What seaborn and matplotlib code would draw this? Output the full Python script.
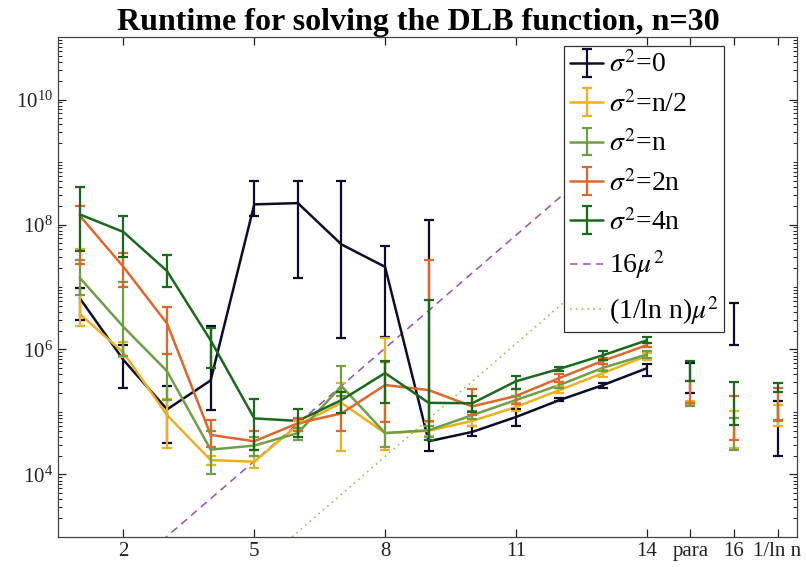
import numpy as np
import pandas as pd
import seaborn as sns
import matplotlib.pyplot as plt
from matplotlib.ticker import FixedLocator, LogLocator, NullFormatter

# x positions: 1..14 are the main runs, 15/16/17 are the separate variants
steps = list(range(1, 15))
extra_x = [15, 16, 17]
tick_pos = [2, 5, 8, 11, 14, 15, 16, 17]
tick_labels = ['2', '5', '8', '11', '14', 'para', '16', '1/ln n']

names = ['$\\sigma^2$=0', '$\\sigma^2$=n/2', '$\\sigma^2$=n', '$\\sigma^2$=2n', '$\\sigma^2$=4n']
colors = ['#0d0d2b', '#edb120', '#6e9f45', '#e0662c', '#1b6a1b']

# sigma^2 = 0
rt_0 = [6.6e6, 6.8e5, 1.1e5, 3.2e5, 2.1e8, 2.2e8, 4.8e7, 2.1e7, 3.4e4, 4.8e4, 8.3e4, 1.55e5, 2.7e5, 5.0e5]
lo_0 = [3.0e6, 2.4e5, 3.2e4, 1.07e5, 1.35e8, 1.4e7, 1.5e6, 1.6e6, 2.4e4, 4.2e4, 6.0e4, 1.48e5, 2.45e5, 3.7e5]
hi_0 = [9.5e6, 1.17e6, 2.6e5, 2.4e6, 5.0e8, 5.0e8, 5.0e8, 4.5e7, 1.17e8, 5.9e4, 1.1e5, 1.66e5, 2.9e5, 5.9e5]
xlo_0 = [2.0e5, 1.2e6, 2.0e4]
xhi_0 = [6.0e5, 5.6e6, 1.48e5]

# sigma^2 = n/2
rt_1 = [3.7e6, 8.9e5, 8.9e4, 1.7e4, 1.6e4, 6.2e4, 1.4e5, 4.6e4, 5.0e4, 7.2e4, 1.2e5, 2.24e5, 4.2e5, 7.9e5]
lo_1 = [2.4e6, 7.6e5, 2.7e4, 1.4e4, 1.26e4, 5.0e4, 2.4e4, 2.5e4, 4.2e4, 5.9e4, 1.02e5, 2.0e5, 3.6e5, 6.9e5]
hi_1 = [4.0e7, 1.3e6, 1.6e5, 2.0e4, 2.0e4, 7.1e4, 2.9e5, 1.55e6, 6.9e4, 8.9e4, 1.38e5, 2.6e5, 4.7e5, 8.9e5]
xlo_1 = [1.32e5, 2.7e4, 6.0e4]
xhi_1 = [1.5e5, 1.05e5, 1.3e5]

# sigma^2 = n
rt_2 = [1.4e7, 2.3e6, 4.5e5, 2.5e4, 2.9e4, 4.6e4, 2.6e5, 4.6e4, 5.1e4, 8.9e4, 1.55e5, 2.7e5, 5.1e5, 8.3e5]
lo_2 = [7.4e6, 7.8e5, 1.55e5, 1.0e4, 1.95e4, 3.5e4, 1.8e5, 2.75e4, 4.0e4, 7.6e4, 1.35e5, 2.45e5, 4.6e5, 7.4e5]
hi_2 = [2.75e7, 1.2e7, 8.5e5, 5.0e4, 4.0e4, 5.6e4, 5.5e5, 6.2e5, 6.0e4, 1.05e5, 1.8e5, 3.0e5, 5.8e5, 9.3e5]
xlo_2 = [1.26e5, 2.5e4, 7.2e4]
xhi_2 = [1.38e5, 8.1e4, 2.4e5]

# sigma^2 = 2n
rt_3 = [1.38e8, 2.1e7, 2.6e6, 4.3e4, 3.4e4, 6.6e4, 9.5e4, 2.7e5, 2.24e5, 1.23e5, 1.8e5, 3.5e5, 6.6e5, 1.17e6]
lo_3 = [2.3e7, 1.0e7, 8.5e5, 2.8e4, 2.5e4, 5.0e4, 4.9e4, 6.8e4, 7.1e4, 8.9e4, 1.35e5, 3.0e5, 5.8e5, 1.1e6]
hi_3 = [2.0e8, 3.5e7, 4.8e6, 7.4e4, 4.9e4, 7.9e4, 2.1e5, 6.2e5, 2.7e7, 2.3e5, 2.3e5, 4.0e5, 7.4e5, 1.26e6]
xlo_3 = [1.38e5, 3.5e4, 7.4e4]
xhi_3 = [3.1e5, 1.8e5, 2.4e5]

# sigma^2 = 4n
rt_4 = [1.45e8, 7.6e7, 1.8e7, 1.4e6, 7.9e4, 7.2e4, 1.55e5, 4.2e5, 1.4e5, 1.38e5, 3.1e5, 4.9e5, 8.1e5, 1.4e6]
lo_4 = [3.8e7, 3.0e7, 1.0e7, 5.1e5, 2.45e4, 4.0e4, 9.5e4, 1.4e5, 3.5e4, 1.0e5, 2.3e5, 4.6e5, 6.9e5, 1.26e6]
hi_4 = [4.0e8, 1.38e8, 3.2e7, 2.2e6, 1.6e5, 1.1e5, 2.1e5, 6.6e5, 6.3e6, 1.8e5, 3.7e5, 5.2e5, 9.5e5, 1.6e6]
xlo_4 = [3.1e5, 6.2e4, 2.1e5]
xhi_4 = [6.6e5, 3.0e5, 2.95e5]

# reference curves, end points
ref_x = [1, 14]
ref_16mu2 = [64, 4.3e9]
ref_lnmu2 = [1.18, 7.9e7]

centers = [rt_0, rt_1, rt_2, rt_3, rt_4]
lows = [lo_0, lo_1, lo_2, lo_3, lo_4]
highs = [hi_0, hi_1, hi_2, hi_3, hi_4]
xlows = [xlo_0, xlo_1, xlo_2, xlo_3, xlo_4]
xhighs = [xhi_0, xhi_1, xhi_2, xhi_3, xhi_4]

df = pd.DataFrame({
    'step': steps * 5,
    'runtime': sum(centers, []),
    'series': [n for n in names for _ in steps],
})

sns.set_theme(style='ticks')
plt.rcParams['font.family'] = ['Liberation Serif', 'DejaVu Serif']
plt.rcParams['mathtext.fontset'] = 'stix'

fig = plt.figure(figsize=(8.06, 5.74), dpi=100)
ax = fig.add_axes([0.072, 0.0645, 0.917, 0.871])

sns.lineplot(data=df, x='step', y='runtime', hue='series', palette=dict(zip(names, colors)),
             linewidth=1.8, legend=False, ax=ax)

handles = []
for i, name in enumerate(names):
    c = np.array(centers[i])
    err = [c - np.array(lows[i]), np.array(highs[i]) - c]
    ax.errorbar(steps, c, yerr=err, fmt='none', ecolor=colors[i], elinewidth=1.6,
                capsize=3.3, capthick=1.6, zorder=2 + i)
    xl, xh = np.array(xlows[i]), np.array(xhighs[i])
    xc = np.sqrt(xl * xh)
    ax.errorbar(extra_x, xc, yerr=[xc - xl, xh - xc], fmt='none', ecolor=colors[i],
                elinewidth=1.6, capsize=3.3, capthick=1.6, zorder=2 + i)
    h = ax.errorbar([np.nan], [np.nan], yerr=[[np.nan], [np.nan]], fmt='-', color=colors[i],
                    linewidth=1.8, elinewidth=1.6, capsize=3.3, capthick=1.6, label=name)
    handles.append(h)

h1, = ax.plot(ref_x, ref_16mu2, linestyle=(0, (5, 3.5)), color='#9a4fb5', linewidth=1.1,
              label='16$\\mu^2$', zorder=1)
h2, = ax.plot(ref_x, ref_lnmu2, linestyle=(0, (1, 2.5)), color='#9cc05a', linewidth=1.2,
              label='(1/ln n)$\\mu^2$', zorder=1)
handles += [h1, h2]

ax.set_yscale('log')
ax.set_xlim(0.5, 17.45)
ax.set_ylim(1e3, 1e11)
ax.set_xticks(tick_pos)
ax.set_xticklabels(tick_labels)
ax.yaxis.set_major_locator(FixedLocator([1e4, 1e6, 1e8, 1e10]))
ax.yaxis.set_minor_locator(LogLocator(base=10, subs=np.arange(1, 10), numticks=30))
ax.yaxis.set_minor_formatter(NullFormatter())
ax.tick_params(axis='both', which='both', direction='in', top=True, right=True,
               labelsize=15, colors='#222222')
ax.tick_params(which='major', length=6, width=0.9)
ax.tick_params(which='minor', length=3, width=0.7)
ax.set_xlabel('')
ax.set_ylabel('')
for s in ax.spines.values():
    s.set_color('#444444')
    s.set_linewidth(0.9)

ax.set_title('Runtime for solving the DLB function, n=30', fontsize=23, fontweight='bold',
             color='black', pad=5, x=0.488)

leg = ax.legend(handles=handles, loc='upper left', bbox_to_anchor=(0.685, 0.982), fontsize=20,
                frameon=True, fancybox=False, edgecolor='#333333', framealpha=1,
                handlelength=1.2, handletextpad=0.2, labelspacing=0.45, borderpad=0.2,
                borderaxespad=0, labelcolor='black')
leg.get_frame().set_linewidth(0.9)

fig.savefig('out.png', dpi=100)
